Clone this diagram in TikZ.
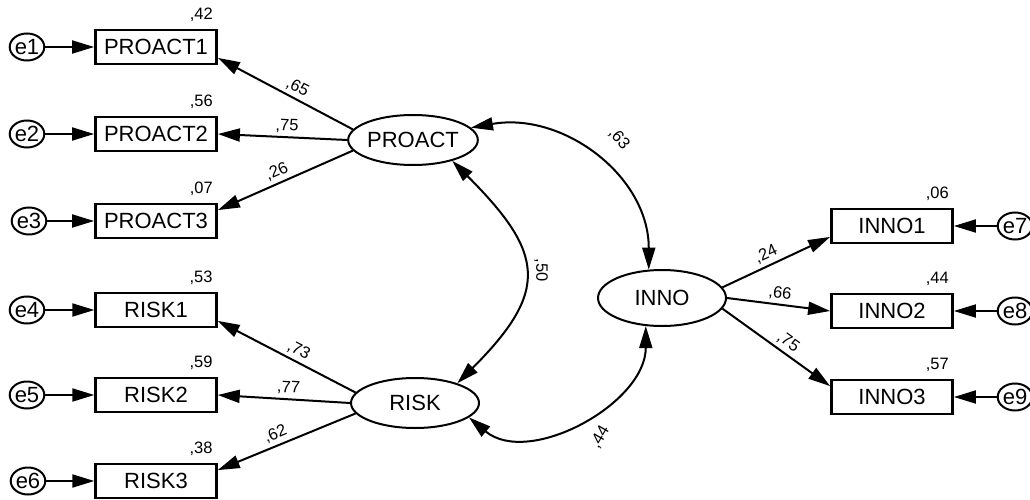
\documentclass[tikz,border=0pt]{standalone}
\usepackage{fontspec}
\setmainfont{Liberation Sans}
\usetikzlibrary{shapes.geometric,arrows.meta}

\begin{document}
\begin{tikzpicture}[x=1pt,y=1pt,
  obs/.style={draw,line width=2.8pt,minimum width=121pt,minimum height=34pt,inner sep=0pt,font=\fontsize{22}{24}\selectfont},
  lat/.style={draw,ellipse,line width=2pt,minimum width=128pt,minimum height=50pt,inner sep=0pt,font=\fontsize{22}{24}\selectfont},
  err/.style={draw,ellipse,line width=2pt,minimum width=31pt,minimum height=27pt,inner sep=0pt,font=\fontsize{22}{22}\selectfont},
  rsq/.style={font=\fontsize{16.5}{18}\selectfont,inner sep=0pt,anchor=base east},
  coef/.style={font=\fontsize{16.5}{18}\selectfont,inner sep=3.5pt,sloped,above},
  tip/.tip={Triangle[length=22pt,width=13pt]},
  loadarrow/.style={line width=2pt,-tip},
  loadback/.style={line width=2pt,tip-},
  cov/.style={line width=2pt,tip-tip}]
  \useasboundingbox (0,0) rectangle (1030,-500);

  % latent variables
  \node[lat] (p) at (413,-140) {PROACT};
  \node[lat] (r) at (415,-403) {RISK};
  \node[lat,minimum height=56pt] (i) at (662,-298) {INNO};

  % indicators, left
  \node[obs] (pa1) at (156,-47) {PROACT1};
  \node[obs] (pa2) at (156,-134) {PROACT2};
  \node[obs] (pa3) at (156,-221) {PROACT3};
  \node[obs,line width=2.4pt] (ra1) at (156,-310) {RISK1};
  \node[obs,line width=2.4pt] (ra2) at (156,-395) {RISK2};
  \node[obs,line width=2.4pt] (ra3) at (156,-481) {RISK3};
  % indicators, right
  \node[obs] (ia1) at (892,-226) {INNO1};
  \node[obs] (ia2) at (892,-311) {INNO2};
  \node[obs] (ia3) at (892,-397) {INNO3};

  % errors
  \node[err] (e1) at (27,-47) {e1};
  \node[err] (e2) at (27,-134) {e2};
  \node[err] (e3) at (29,-221) {e3};
  \node[err] (e4) at (27,-310) {e4};
  \node[err] (e5) at (27,-395) {e5};
  \node[err] (e6) at (28,-481) {e6};
  \node[err] (e7) at (1015,-226) {e7};
  \node[err] (e8) at (1015,-311) {e8};
  \node[err] (e9) at (1015,-397) {e9};

  \draw[loadarrow] (e1) -- (pa1);
  \draw[loadarrow] (e2) -- (pa2);
  \draw[loadarrow] (e3) -- (pa3);
  \draw[loadarrow] (e4) -- (ra1);
  \draw[loadarrow] (e5) -- (ra2);
  \draw[loadarrow] (e6) -- (ra3);
  \draw[loadarrow] (e7) -- (ia1);
  \draw[loadarrow] (e8) -- (ia2);
  \draw[loadarrow] (e9) -- (ia3);

  % squared multiple correlations
  \node[rsq] (s1) at ([xshift=-5pt,yshift=9pt]pa1.north east) {,42};
  \node[rsq] (s2) at ([xshift=-5pt,yshift=9pt]pa2.north east) {,56};
  \node[rsq] (s3) at ([xshift=-5pt,yshift=9pt]pa3.north east) {,07};
  \node[rsq] (s4) at ([xshift=-5pt,yshift=9pt]ra1.north east) {,53};
  \node[rsq] (s5) at ([xshift=-5pt,yshift=9pt]ra2.north east) {,59};
  \node[rsq] (s6) at ([xshift=-5pt,yshift=9pt]ra3.north east) {,38};
  \node[rsq] (s7) at ([xshift=-5pt,yshift=9pt]ia1.north east) {,06};
  \node[rsq] (s8) at ([xshift=-5pt,yshift=9pt]ia2.north east) {,44};
  \node[rsq] (s9) at ([xshift=-5pt,yshift=9pt]ia3.north east) {,57};

  % loadings
  \draw[loadback] (pa1.-10) -- node[coef,pos=0.55] {,65} (p.170);
  \draw[loadback] (pa2.east) -- node[coef,pos=0.53] {,75} (p.west);
  \draw[loadback] (pa3.10) -- node[coef,pos=0.47] {,26} (p.190);
  \draw[loadback] (ra1.-10) -- node[coef,pos=0.55] {,73} (r.170);
  \draw[loadback] (ra2.east) -- node[coef,pos=0.53] {,77} (r.west);
  \draw[loadback] (ra3.10) -- node[coef,pos=0.45] {,62} (r.190);
  \draw[loadarrow] (i.10) -- node[coef,pos=0.45] {,24} (ia1.190);
  \draw[loadarrow] (i.east) -- node[coef,pos=0.5] {,66} (ia2.west);
  \draw[loadarrow] (i.-10) -- node[coef,pos=0.55] {,75} (ia3.170);

  % covariances
  \draw[cov] (p.12) to[out=10,in=90,looseness=1.05] (i.115);
  \draw[cov] (p.-28) to[out=-45,in=45,looseness=1.5] (r.25);
  \draw[cov] (r.-15) to[out=-40,in=-90,looseness=1.0] (i.-120);
  \node[font=\fontsize{16.5}{18}\selectfont,rotate=-50] (c1) at (619,-139) {,63};
  \node[font=\fontsize{16.5}{18}\selectfont,rotate=-90] (c2) at (541,-270) {,50};
  \node[font=\fontsize{16.5}{18}\selectfont,rotate=60] (c3) at (600,-437) {,44};
\end{tikzpicture}
\end{document}
